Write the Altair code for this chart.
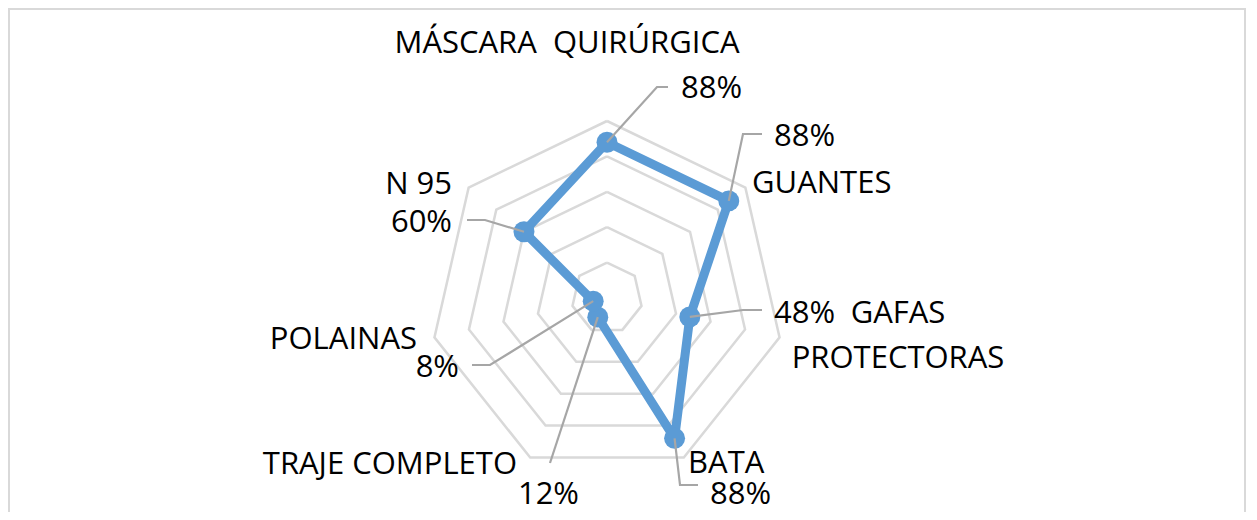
import math
import altair as alt
import pandas as pd

# ---------------- data ----------------
CATEGORIES = ["MÁSCARA \u00a0QUIRÚRGICA", "GUANTES", "GAFAS PROTECTORAS", "BATA",
              "TRAJE COMPLETO", "POLAINAS", "N 95"]
VALUES = [88, 88, 48, 88, 12, 8, 60]
VALUE_LABELS = ["88%", "88%", "48%", "88%", "12%", "8%", "60%"]
GRID_LEVELS = [20, 40, 60, 80, 100]
MAX_VALUE = 100

# ---------------- layout (page pixels) ----------------
W, H = 1238, 504
CX, CY = 599, 290          # radar centre inside the view
R = 177                    # outer ring radius in px
FONT = "Open Sans"
FS = 31

# category label: (align, x, baseline)
CAT_LABEL_POS = {
    CATEGORIES[0]: ("center", 567, 53),
    "GUANTES": ("left", 752, 193),
    "GAFAS PROTECTORAS": ("center", 898, 323),
    "BATA": ("left", 688, 473),
    "TRAJE COMPLETO": ("right", 517, 474),
    "POLAINAS": ("right", 417, 349),
    "N 95": ("right", 452, 194),
}
# value label: (align, x, baseline, leader-line bend points)
VAL_LABEL_POS = {
    CATEGORIES[0]: ("left", 681, 98, [(657, 87), (668, 87)]),
    "GUANTES": ("left", 774, 146, [(743, 134), (762, 134)]),
    "GAFAS PROTECTORAS": ("left", 774, 323, [(743, 310), (762, 310)]),
    "BATA": ("left", 710, 504, [(680, 485), (698, 485)]),
    "TRAJE COMPLETO": ("right", 579, 504, [(550, 463)]),
    "POLAINAS": ("right", 459, 377, [(490, 365), (472, 365)]),
    "N 95": ("right", 452, 232, [(485, 220), (467, 220)]),
}


def polar(v, i):
    a = 2 * math.pi * i / len(CATEGORIES)
    r = v / MAX_VALUE * R
    return r * math.sin(a), r * math.cos(a)


def page(px, py):
    return px - 8 - CX, CY + 8 - py


n = len(CATEGORIES)

rings = []
for lv in GRID_LEVELS:
    for k in range(n + 1):
        x, y = polar(lv, k % n)
        rings.append({"level": lv, "k": k, "x": x, "y": y})
rings = pd.DataFrame(rings)

series = []
for k in range(n + 1):
    x, y = polar(VALUES[k % n], k % n)
    series.append({"k": k, "x": x, "y": y})
series = pd.DataFrame(series)

points = pd.DataFrame([
    {"cat": c, "x": polar(v, i)[0], "y": polar(v, i)[1]}
    for i, (c, v) in enumerate(zip(CATEGORIES, VALUES))
])

leaders = []
for i, (c, v) in enumerate(zip(CATEGORIES, VALUES)):
    x, y = polar(v, i)
    leaders.append({"cat": c, "k": 0, "x": x, "y": y})
    for k, (px, py) in enumerate(VAL_LABEL_POS[c][3], start=1):
        lx, ly = page(px, py)
        leaders.append({"cat": c, "k": k, "x": lx, "y": ly})
leaders = pd.DataFrame(leaders)

cat_labels = []
for c in CATEGORIES:
    al, px, py = CAT_LABEL_POS[c]
    x, y = page(px, py)
    cat_labels.append({"text": c, "align": al, "x": x, "y": y,
                       "multi": c == "GAFAS PROTECTORAS"})
cat_labels = pd.DataFrame(cat_labels)

val_labels = []
for c, t in zip(CATEGORIES, VALUE_LABELS):
    al, px, py, _ = VAL_LABEL_POS[c]
    x, y = page(px, py)
    val_labels.append({"text": t, "align": al, "x": x, "y": y})
val_labels = pd.DataFrame(val_labels)

xs = alt.Scale(domain=[-CX, W - CX], nice=False, zero=False)
ys = alt.Scale(domain=[-(H - CY), CY], nice=False, zero=False)
X = alt.X("x:Q", scale=xs, axis=None)
Y = alt.Y("y:Q", scale=ys, axis=None)

ring_layer = alt.Chart(rings).mark_line(color="#d9d9d9", strokeWidth=2.5).encode(
    x=X, y=Y, detail="level:N", order="k:Q")

series_layer = alt.Chart(series).mark_line(
    color="#5b9bd5", strokeWidth=9, strokeJoin="round", strokeCap="round"
).encode(x=X, y=Y, order="k:Q")

point_layer = alt.Chart(points).mark_point(
    filled=True, shape="circle", size=440, color="#5b9bd5", opacity=1
).encode(x=X, y=Y)

leader_layer = alt.Chart(leaders).mark_line(color="#a6a6a6", strokeWidth=2.2).encode(
    x=X, y=Y, detail="cat:N", order="k:Q")

text_layers = []
for al in ["left", "center", "right"]:
    for multi in [False, True]:
        sub = cat_labels[(cat_labels["align"] == al) & (cat_labels["multi"] == multi)]
        if len(sub) == 0:
            continue
        kw = dict(align=al, baseline="alphabetic", font=FONT, fontSize=FS, color="#000000")
        if multi:
            kw.update(lineBreak=" ", lineHeight=45)
        text_layers.append(alt.Chart(sub).mark_text(**kw).encode(x=X, y=Y, text="text:N"))
    sub = val_labels[val_labels["align"] == al]
    if len(sub):
        text_layers.append(alt.Chart(sub).mark_text(
            align=al, baseline="alphabetic", font=FONT, fontSize=FS, color="#000000"
        ).encode(x=X, y=Y, text="text:N"))

one = alt.Data(values=[{"a": 1}])
border = [
    alt.Chart(one).mark_rule(color="#d9d9d9", strokeWidth=2).encode(
        x=alt.value(0), x2=alt.value(W), y=alt.value(1)),
    alt.Chart(one).mark_rule(color="#d9d9d9", strokeWidth=2).encode(
        x=alt.value(1), y=alt.value(0), y2=alt.value(H)),
    alt.Chart(one).mark_rule(color="#d9d9d9", strokeWidth=2).encode(
        x=alt.value(W - 1), y=alt.value(0), y2=alt.value(H)),
]

chart = alt.layer(
    *border, ring_layer, series_layer, point_layer, leader_layer, *text_layers
).properties(
    width=W, height=H, padding=0,
    autosize=alt.AutoSizeParams(type="none"),
    background="white",
).configure_view(stroke=None)

chart.save("out.html", embed_options={"renderer": "svg", "actions": False})
